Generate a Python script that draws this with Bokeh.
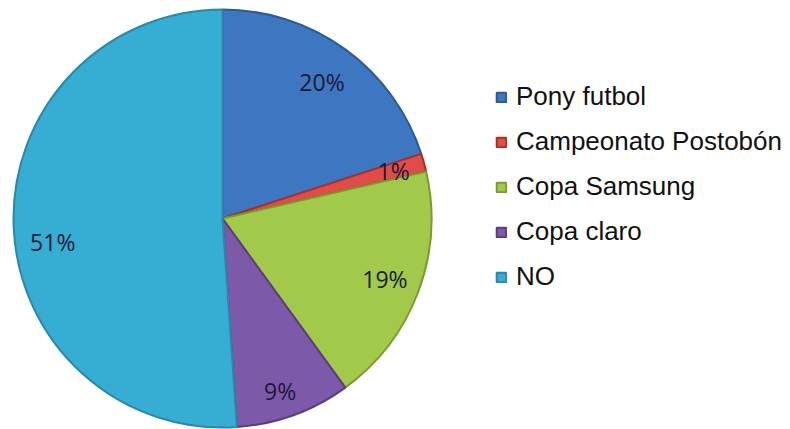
import numpy as np
from bokeh.plotting import figure
from bokeh.models import ColumnDataSource, Range1d, Legend, LegendItem
from bokeh.core.properties import value
from bokeh.embed import file_html
from bokeh.resources import INLINE

# ---- data ----
categories = ["Pony futbol", "Campeonato Postobón", "Copa Samsung", "Copa claro", "NO"]
shares = [20.0, 1.4, 18.6, 8.9, 51.1]
labels = ["20%", "1%", "19%", "9%", "51%"]
colors = ["#3d77c1", "#e04c47", "#a3c94a", "#7d59a9", "#36add3"]
edges = ["#2b5a94", "#a8302c", "#7a9a2e", "#5a3d80", "#2a88a8"]

# ---- layout / style ----
W, H = 790, 429
CX, CY, R = 222, 211, 209
LABEL_RF = [0.81, 0.85, 0.83, 0.87, 0.82]      # label distance (fraction of radius)
LABEL_SHIFT_DEG = [0.0, 0.0, 0.0, -1.5, 6.0]    # best-fit nudge of label angle

vals = np.array(shares, dtype=float)
frac = vals / vals.sum()
cum = np.concatenate([[0], np.cumsum(frac)])
start = np.pi / 2 - 2 * np.pi * cum[:-1]
end = np.pi / 2 - 2 * np.pi * cum[1:]
mid = (start + end) / 2 + np.radians(LABEL_SHIFT_DEG)
rf = np.array(LABEL_RF)

src = ColumnDataSource(dict(
    cat=categories, start=start, end=end, color=colors, edge=edges,
    x=[CX] * len(categories), y=[CY] * len(categories),
))
lab = ColumnDataSource(dict(
    x=CX + rf * R * np.cos(mid),
    y=CY + rf * R * np.sin(mid),
    text=labels,
))

p = figure(width=W, height=H, output_backend="svg", toolbar_location=None,
           x_range=Range1d(0, W), y_range=Range1d(0, H), min_border=0,
           background_fill_color="white", border_fill_color="white")
p.xaxis.visible = False
p.yaxis.visible = False
p.grid.visible = False
p.outline_line_color = None

w = p.wedge(x="x", y="y", radius=R, start_angle="start", end_angle="end",
            direction="clock", fill_color="color", line_color="edge",
            line_width=2, source=src)

p.text(x="x", y="y", text="text", source=lab, text_align="center",
       text_baseline="middle", text_font=value("Open Sans"),
       text_font_size="23px", text_color="#1a1a36")

items = [LegendItem(label=c, renderers=[w], index=i) for i, c in enumerate(categories)]
legend = Legend(items=items, location=(495, 137), orientation="vertical",
                border_line_color=None, background_fill_alpha=0,
                padding=0, margin=0, spacing=14, label_height=31,
                glyph_width=12, glyph_height=12, label_standoff=9,
                label_text_font="Liberation Sans", label_text_font_size="26px",
                label_text_color="#111111")
p.add_layout(legend, "center")

open("out.html", "w").write(file_html(p, INLINE))
